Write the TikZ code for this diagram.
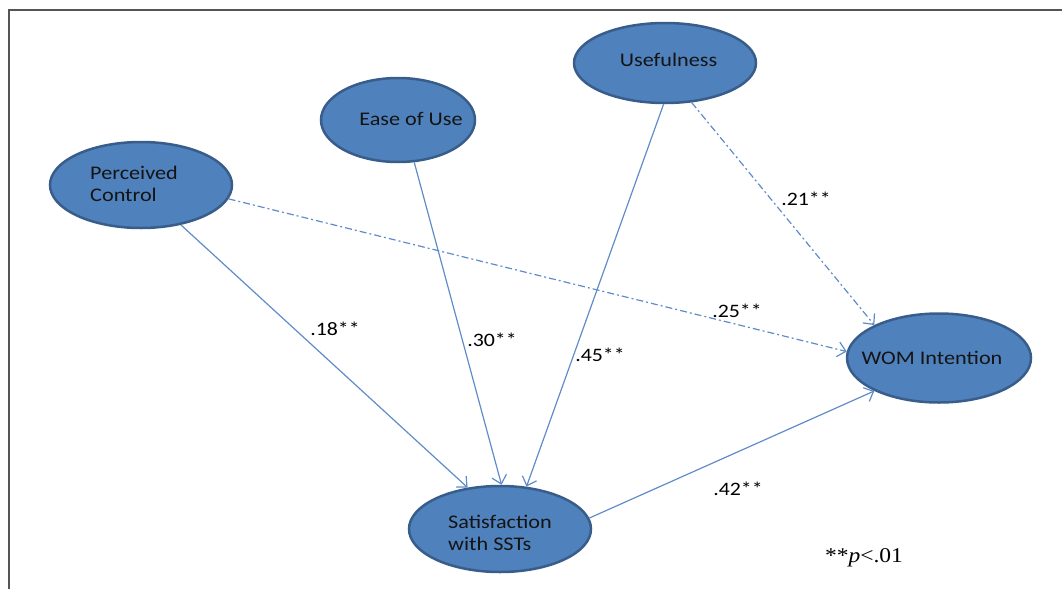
\documentclass[tikz,border=0pt]{standalone}
\usepackage{fontspec}
\setmainfont{Carlito}[FakeStretch=1.15]
\newfontfamily\serfont{Liberation Serif}[FakeStretch=1.12]
\usetikzlibrary{shapes.geometric,arrows.meta}
\definecolor{nodefill}{HTML}{4F81BD}
\definecolor{nodeedge}{HTML}{385D8A}
\definecolor{linkcol}{RGB}{95,140,200}
\definecolor{framecol}{RGB}{85,85,85}
\newcommand{\shiftbox}[3]{\hspace*{#1}\raisebox{#2}[\height][\depth]{#3}\hspace*{-#1}}
\begin{document}
\begin{tikzpicture}[x=1pt,y=-1pt,
  construct/.style={ellipse,draw=nodeedge,fill=nodefill,line width=2.5pt,inner sep=0pt,
    font=\fontsize{19.3}{22.5}\selectfont,text=black!92},
  path/.style={draw=linkcol,line width=1.2pt,-{Straight Barb[length=8pt,width=15pt,line width=1.2pt]}},
  dotpath/.style={path,dash pattern=on 7pt off 3pt on 2pt off 3pt},
  coef/.style={font=\fontsize{19}{22}\selectfont,text=black,inner sep=0pt}]
\useasboundingbox (0,0) rectangle (1062,589);
\draw[framecol,line width=2pt] (9,589) -- (9,10) -- (1062,10);
% constructs
\node[construct,minimum width=182pt,minimum height=80pt] (use) at (665,63) {\shiftbox{3.5pt}{3pt}{Usefulness}};
\node[construct,minimum width=154pt,minimum height=84pt] (ease) at (398,120) {\shiftbox{13pt}{1pt}{Ease of Use}};
\node[construct,minimum width=182pt,minimum height=86pt] (pc) at (141,185) {\shiftbox{-7pt}{-1pt}{\begin{tabular}{@{}l@{}}Perceived\\Control\end{tabular}}};
\node[construct,minimum width=184pt,minimum height=89pt,inner xsep=-8pt] (wom) at (939,358) {\shiftbox{-7pt}{0pt}{WOM Intention}};
\node[construct,minimum width=182pt,minimum height=86pt] (sat) at (500,529) {\shiftbox{0pt}{-6pt}{\begin{tabular}{@{}l@{}}Satisfaction\\with SSTs\end{tabular}}};
% paths
\draw[path] (pc.-45.7) -- (sat.128.2);
\draw[path] (ease.-69) -- (sat.88.6);
\draw[path] (use.-92.9) -- (sat.58.2);
\draw[dotpath] (use.-56) -- (wom.153);
\draw[dotpath] (pc.-9.9) -- (wom.176);
\draw[path] (sat.7.5) -- (wom.207.4);
% coefficients
\node[coef] (c18) at (335,329) {.18**};
\node[coef] (c30) at (492,340) {.30**};
\node[coef] (c45) at (600,355) {.45**};
\node[coef] (c21) at (806,199) {.21**};
\node[coef] (c25) at (737,311) {.25**};
\node[coef] (c42) at (738,489) {.42**};
\node[font=\serfont\fontsize{21}{24}\selectfont,inner sep=0pt] (note) at (864,558) {**\textit{p}<.01};
\end{tikzpicture}
\end{document}
